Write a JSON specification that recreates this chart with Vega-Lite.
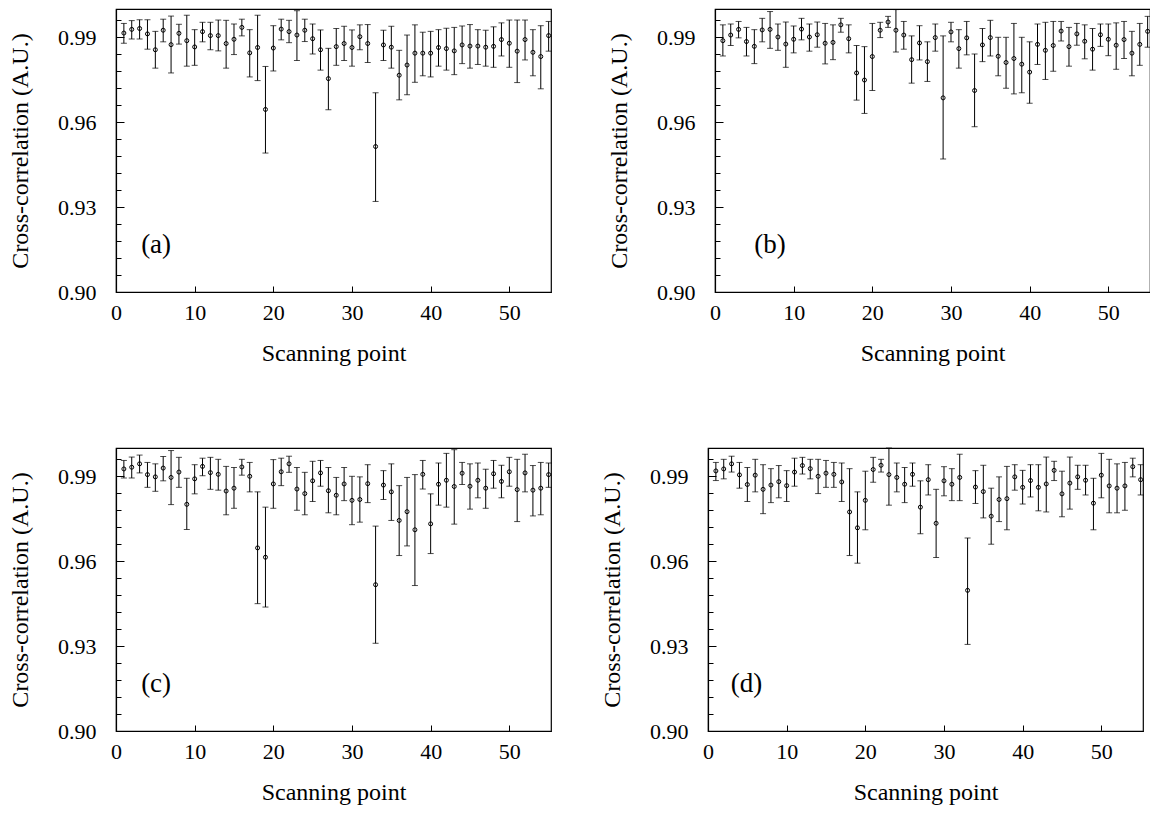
{
"$schema":"https://vega.github.io/schema/vega-lite/v6.json",
"background":"white",
"padding":{"left":7,"top":8,"right":0,"bottom":0},
"config":{"font":"Liberation Serif","view":{"stroke":"black","strokeWidth":1.2},
"text":{"font":"Liberation Serif"},
"axis":{"domainColor":"black","domainWidth":1.2,"tickColor":"black","tickWidth":1,"labelColor":"black","labelFont":"Liberation Serif","labelFontSize":22,"labelFlush":false,"titleFont":"Liberation Serif","titleFontSize":24,"titleFontWeight":"normal","titleColor":"black","grid":false}},
"datasets":{"d":[
{"p":"a","x":1,"y":0.9915,"hi":0.9949,"lo":0.9879},{"p":"a","x":2,"y":0.9928,"hi":0.9959,"lo":0.9894},{"p":"a","x":3,"y":0.9931,"hi":0.9962,"lo":0.9894},{"p":"a","x":4,"y":0.9912,"hi":0.9962,"lo":0.9858},{"p":"a","x":5,"y":0.9856,"hi":0.9921,"lo":0.9791},{"p":"a","x":6,"y":0.9925,"hi":0.9964,"lo":0.9884},{"p":"a","x":7,"y":0.9874,"hi":0.9975,"lo":0.9774},{"p":"a","x":8,"y":0.9914,"hi":0.9946,"lo":0.9876},{"p":"a","x":9,"y":0.9888,"hi":0.9978,"lo":0.9798},{"p":"a","x":10,"y":0.9866,"hi":0.9927,"lo":0.9801},{"p":"a","x":11,"y":0.992,"hi":0.9953,"lo":0.9884},{"p":"a","x":12,"y":0.9906,"hi":0.9953,"lo":0.9856},{"p":"a","x":13,"y":0.9906,"hi":0.9961,"lo":0.9852},{"p":"a","x":14,"y":0.9878,"hi":0.996,"lo":0.9791},{"p":"a","x":15,"y":0.9893,"hi":0.9947,"lo":0.9839},{"p":"a","x":16,"y":0.9935,"hi":0.9964,"lo":0.9905},{"p":"a","x":17,"y":0.9845,"hi":0.9927,"lo":0.976},{"p":"a","x":18,"y":0.9864,"hi":0.9978,"lo":0.9747},{"p":"a","x":19,"y":0.9645,"hi":0.9797,"lo":0.9491},{"p":"a","x":20,"y":0.9862,"hi":0.9941,"lo":0.9781},{"p":"a","x":21,"y":0.9929,"hi":0.9964,"lo":0.9891},{"p":"a","x":22,"y":0.992,"hi":0.996,"lo":0.9881},{"p":"a","x":23,"y":0.9908,"hi":0.9994,"lo":0.9818},{"p":"a","x":24,"y":0.9925,"hi":0.9964,"lo":0.9885},{"p":"a","x":25,"y":0.9895,"hi":0.9947,"lo":0.9841},{"p":"a","x":26,"y":0.9856,"hi":0.9926,"lo":0.9784},{"p":"a","x":27,"y":0.9754,"hi":0.9861,"lo":0.9644},{"p":"a","x":28,"y":0.9867,"hi":0.9931,"lo":0.9801},{"p":"a","x":29,"y":0.9878,"hi":0.9939,"lo":0.9818},{"p":"a","x":30,"y":0.9864,"hi":0.9926,"lo":0.9798},{"p":"a","x":31,"y":0.9902,"hi":0.9944,"lo":0.9856},{"p":"a","x":32,"y":0.9878,"hi":0.9945,"lo":0.9811},{"p":"a","x":33,"y":0.9514,"hi":0.9704,"lo":0.932},{"p":"a","x":34,"y":0.9873,"hi":0.9925,"lo":0.9818},{"p":"a","x":35,"y":0.9865,"hi":0.9939,"lo":0.9791},{"p":"a","x":36,"y":0.9766,"hi":0.9854,"lo":0.9679},{"p":"a","x":37,"y":0.9802,"hi":0.9908,"lo":0.9697},{"p":"a","x":38,"y":0.9844,"hi":0.9944,"lo":0.9741},{"p":"a","x":39,"y":0.9844,"hi":0.9918,"lo":0.9764},{"p":"a","x":40,"y":0.9844,"hi":0.9921,"lo":0.976},{"p":"a","x":41,"y":0.9864,"hi":0.9927,"lo":0.9798},{"p":"a","x":42,"y":0.986,"hi":0.9932,"lo":0.9784},{"p":"a","x":43,"y":0.9852,"hi":0.9935,"lo":0.9768},{"p":"a","x":44,"y":0.9873,"hi":0.994,"lo":0.9807},{"p":"a","x":45,"y":0.9869,"hi":0.9945,"lo":0.9791},{"p":"a","x":46,"y":0.9869,"hi":0.9927,"lo":0.9804},{"p":"a","x":47,"y":0.9865,"hi":0.9925,"lo":0.9798},{"p":"a","x":48,"y":0.9868,"hi":0.9937,"lo":0.9794},{"p":"a","x":49,"y":0.9892,"hi":0.9951,"lo":0.9834},{"p":"a","x":50,"y":0.9879,"hi":0.9961,"lo":0.9794},{"p":"a","x":51,"y":0.9851,"hi":0.9961,"lo":0.974},{"p":"a","x":52,"y":0.9892,"hi":0.9961,"lo":0.982},{"p":"a","x":53,"y":0.9847,"hi":0.9927,"lo":0.9764},{"p":"a","x":54,"y":0.9832,"hi":0.9941,"lo":0.9718},{"p":"a","x":55,"y":0.9906,"hi":0.9956,"lo":0.9851},
{"p":"b","x":1,"y":0.9888,"hi":0.9944,"lo":0.9834},{"p":"b","x":2,"y":0.9908,"hi":0.9947,"lo":0.9871},{"p":"b","x":3,"y":0.9928,"hi":0.9956,"lo":0.9898},{"p":"b","x":4,"y":0.9885,"hi":0.9935,"lo":0.9834},{"p":"b","x":5,"y":0.9868,"hi":0.9927,"lo":0.9807},{"p":"b","x":6,"y":0.9926,"hi":0.9967,"lo":0.9884},{"p":"b","x":7,"y":0.9928,"hi":0.9991,"lo":0.9861},{"p":"b","x":8,"y":0.9901,"hi":0.9947,"lo":0.9854},{"p":"b","x":9,"y":0.9876,"hi":0.9954,"lo":0.9794},{"p":"b","x":10,"y":0.9893,"hi":0.994,"lo":0.9845},{"p":"b","x":11,"y":0.9929,"hi":0.9967,"lo":0.9891},{"p":"b","x":12,"y":0.9901,"hi":0.9947,"lo":0.9851},{"p":"b","x":13,"y":0.9909,"hi":0.9954,"lo":0.9865},{"p":"b","x":14,"y":0.9879,"hi":0.9949,"lo":0.9806},{"p":"b","x":15,"y":0.9882,"hi":0.9944,"lo":0.9821},{"p":"b","x":16,"y":0.9944,"hi":0.9967,"lo":0.9918},{"p":"b","x":17,"y":0.9895,"hi":0.9944,"lo":0.9845},{"p":"b","x":18,"y":0.9774,"hi":0.9871,"lo":0.9678},{"p":"b","x":19,"y":0.9749,"hi":0.9867,"lo":0.9631},{"p":"b","x":20,"y":0.9832,"hi":0.9949,"lo":0.9712},{"p":"b","x":21,"y":0.9925,"hi":0.9953,"lo":0.9899},{"p":"b","x":22,"y":0.9954,"hi":0.9974,"lo":0.9935},{"p":"b","x":23,"y":0.9925,"hi":0.9998,"lo":0.9848},{"p":"b","x":24,"y":0.9908,"hi":0.9956,"lo":0.9858},{"p":"b","x":25,"y":0.9821,"hi":0.9905,"lo":0.9738},{"p":"b","x":26,"y":0.988,"hi":0.9941,"lo":0.982},{"p":"b","x":27,"y":0.9814,"hi":0.9884,"lo":0.9744},{"p":"b","x":28,"y":0.9899,"hi":0.9947,"lo":0.9851},{"p":"b","x":29,"y":0.9686,"hi":0.9905,"lo":0.947},{"p":"b","x":30,"y":0.9919,"hi":0.9953,"lo":0.9884},{"p":"b","x":31,"y":0.986,"hi":0.9927,"lo":0.9791},{"p":"b","x":32,"y":0.9898,"hi":0.9956,"lo":0.9838},{"p":"b","x":33,"y":0.9712,"hi":0.9841,"lo":0.9584},{"p":"b","x":34,"y":0.9873,"hi":0.9931,"lo":0.9814},{"p":"b","x":35,"y":0.9899,"hi":0.996,"lo":0.9834},{"p":"b","x":36,"y":0.9833,"hi":0.99,"lo":0.9764},{"p":"b","x":37,"y":0.9811,"hi":0.99,"lo":0.972},{"p":"b","x":38,"y":0.9825,"hi":0.9949,"lo":0.97},{"p":"b","x":39,"y":0.9805,"hi":0.99,"lo":0.9704},{"p":"b","x":40,"y":0.9777,"hi":0.9884,"lo":0.9667},{"p":"b","x":41,"y":0.9875,"hi":0.9947,"lo":0.9804},{"p":"b","x":42,"y":0.9854,"hi":0.9953,"lo":0.9751},{"p":"b","x":43,"y":0.9871,"hi":0.9956,"lo":0.978},{"p":"b","x":44,"y":0.9922,"hi":0.9956,"lo":0.9887},{"p":"b","x":45,"y":0.9867,"hi":0.9935,"lo":0.9798},{"p":"b","x":46,"y":0.9912,"hi":0.9949,"lo":0.9872},{"p":"b","x":47,"y":0.9886,"hi":0.9944,"lo":0.9824},{"p":"b","x":48,"y":0.9858,"hi":0.9931,"lo":0.9784},{"p":"b","x":49,"y":0.9909,"hi":0.9947,"lo":0.9868},{"p":"b","x":50,"y":0.9893,"hi":0.9947,"lo":0.9835},{"p":"b","x":51,"y":0.9872,"hi":0.9951,"lo":0.9787},{"p":"b","x":52,"y":0.9892,"hi":0.9956,"lo":0.9825},{"p":"b","x":53,"y":0.9844,"hi":0.9921,"lo":0.9764},{"p":"b","x":54,"y":0.9875,"hi":0.9949,"lo":0.9801},{"p":"b","x":55,"y":0.9921,"hi":0.9974,"lo":0.9865},
{"p":"c","x":1,"y":0.9926,"hi":0.9956,"lo":0.9894},{"p":"c","x":2,"y":0.9932,"hi":0.9968,"lo":0.9894},{"p":"c","x":3,"y":0.9944,"hi":0.9975,"lo":0.9912},{"p":"c","x":4,"y":0.9906,"hi":0.9949,"lo":0.9861},{"p":"c","x":5,"y":0.9898,"hi":0.9944,"lo":0.9847},{"p":"c","x":6,"y":0.9929,"hi":0.997,"lo":0.9884},{"p":"c","x":7,"y":0.9896,"hi":0.9991,"lo":0.98},{"p":"c","x":8,"y":0.9915,"hi":0.9967,"lo":0.9861},{"p":"c","x":9,"y":0.9801,"hi":0.9893,"lo":0.9712},{"p":"c","x":10,"y":0.9891,"hi":0.9941,"lo":0.9838},{"p":"c","x":11,"y":0.9935,"hi":0.9964,"lo":0.9902},{"p":"c","x":12,"y":0.9913,"hi":0.9967,"lo":0.9854},{"p":"c","x":13,"y":0.9907,"hi":0.996,"lo":0.9851},{"p":"c","x":14,"y":0.9848,"hi":0.9935,"lo":0.9764},{"p":"c","x":15,"y":0.9858,"hi":0.9931,"lo":0.9787},{"p":"c","x":16,"y":0.9933,"hi":0.996,"lo":0.9904},{"p":"c","x":17,"y":0.99,"hi":0.9949,"lo":0.9845},{"p":"c","x":18,"y":0.9647,"hi":0.9845,"lo":0.945},{"p":"c","x":19,"y":0.9614,"hi":0.9791,"lo":0.9438},{"p":"c","x":20,"y":0.9873,"hi":0.9959,"lo":0.9787},{"p":"c","x":21,"y":0.9916,"hi":0.9964,"lo":0.9867},{"p":"c","x":22,"y":0.9944,"hi":0.9971,"lo":0.9914},{"p":"c","x":23,"y":0.9855,"hi":0.9931,"lo":0.978},{"p":"c","x":24,"y":0.9839,"hi":0.9914,"lo":0.9764},{"p":"c","x":25,"y":0.9884,"hi":0.9953,"lo":0.9811},{"p":"c","x":26,"y":0.9912,"hi":0.9956,"lo":0.9865},{"p":"c","x":27,"y":0.9849,"hi":0.9931,"lo":0.9771},{"p":"c","x":28,"y":0.9833,"hi":0.9896,"lo":0.9764},{"p":"c","x":29,"y":0.9873,"hi":0.9931,"lo":0.9814},{"p":"c","x":30,"y":0.9815,"hi":0.99,"lo":0.9729},{"p":"c","x":31,"y":0.9818,"hi":0.9898,"lo":0.9738},{"p":"c","x":32,"y":0.9874,"hi":0.9941,"lo":0.9807},{"p":"c","x":33,"y":0.9517,"hi":0.9724,"lo":0.931},{"p":"c","x":34,"y":0.9869,"hi":0.992,"lo":0.9818},{"p":"c","x":35,"y":0.9845,"hi":0.9944,"lo":0.9744},{"p":"c","x":36,"y":0.9744,"hi":0.9867,"lo":0.962},{"p":"c","x":37,"y":0.9775,"hi":0.9896,"lo":0.9654},{"p":"c","x":38,"y":0.9711,"hi":0.9906,"lo":0.9514},{"p":"c","x":39,"y":0.9907,"hi":0.9956,"lo":0.9855},{"p":"c","x":40,"y":0.9732,"hi":0.9838,"lo":0.9627},{"p":"c","x":41,"y":0.9872,"hi":0.9947,"lo":0.9798},{"p":"c","x":42,"y":0.9886,"hi":0.9981,"lo":0.9791},{"p":"c","x":43,"y":0.9864,"hi":0.9994,"lo":0.9731},{"p":"c","x":44,"y":0.9911,"hi":0.9949,"lo":0.9871},{"p":"c","x":45,"y":0.9865,"hi":0.9944,"lo":0.9784},{"p":"c","x":46,"y":0.9886,"hi":0.9947,"lo":0.9824},{"p":"c","x":47,"y":0.9858,"hi":0.9925,"lo":0.9787},{"p":"c","x":48,"y":0.9909,"hi":0.9956,"lo":0.9858},{"p":"c","x":49,"y":0.9882,"hi":0.9939,"lo":0.9824},{"p":"c","x":50,"y":0.9916,"hi":0.9967,"lo":0.9865},{"p":"c","x":51,"y":0.9853,"hi":0.996,"lo":0.974},{"p":"c","x":52,"y":0.9912,"hi":0.9978,"lo":0.9845},{"p":"c","x":53,"y":0.9851,"hi":0.9938,"lo":0.976},{"p":"c","x":54,"y":0.9858,"hi":0.9949,"lo":0.9764},{"p":"c","x":55,"y":0.9906,"hi":0.9947,"lo":0.9861},
{"p":"d","x":1,"y":0.9919,"hi":0.9949,"lo":0.9885},{"p":"d","x":2,"y":0.9926,"hi":0.996,"lo":0.9891},{"p":"d","x":3,"y":0.9944,"hi":0.9971,"lo":0.9915},{"p":"d","x":4,"y":0.9905,"hi":0.9949,"lo":0.9858},{"p":"d","x":5,"y":0.9871,"hi":0.9931,"lo":0.9811},{"p":"d","x":6,"y":0.9904,"hi":0.996,"lo":0.9845},{"p":"d","x":7,"y":0.9854,"hi":0.9941,"lo":0.9768},{"p":"d","x":8,"y":0.9869,"hi":0.9927,"lo":0.9807},{"p":"d","x":9,"y":0.9881,"hi":0.9938,"lo":0.9824},{"p":"d","x":10,"y":0.9867,"hi":0.992,"lo":0.9811},{"p":"d","x":11,"y":0.9915,"hi":0.9964,"lo":0.9865},{"p":"d","x":12,"y":0.9938,"hi":0.9967,"lo":0.9908},{"p":"d","x":13,"y":0.9927,"hi":0.996,"lo":0.9891},{"p":"d","x":14,"y":0.99,"hi":0.996,"lo":0.9839},{"p":"d","x":15,"y":0.9911,"hi":0.9956,"lo":0.9861},{"p":"d","x":16,"y":0.9907,"hi":0.9949,"lo":0.9861},{"p":"d","x":17,"y":0.988,"hi":0.9947,"lo":0.9811},{"p":"d","x":18,"y":0.9774,"hi":0.9927,"lo":0.962},{"p":"d","x":19,"y":0.9718,"hi":0.9845,"lo":0.9593},{"p":"d","x":20,"y":0.9815,"hi":0.9918,"lo":0.9711},{"p":"d","x":21,"y":0.9924,"hi":0.9967,"lo":0.9879},{"p":"d","x":22,"y":0.9939,"hi":0.996,"lo":0.9915},{"p":"d","x":23,"y":0.9906,"hi":1.0,"lo":0.9798},{"p":"d","x":24,"y":0.9896,"hi":0.9947,"lo":0.9845},{"p":"d","x":25,"y":0.9872,"hi":0.9931,"lo":0.9807},{"p":"d","x":26,"y":0.9907,"hi":0.9947,"lo":0.9865},{"p":"d","x":27,"y":0.9791,"hi":0.9884,"lo":0.9697},{"p":"d","x":28,"y":0.9888,"hi":0.9941,"lo":0.9834},{"p":"d","x":29,"y":0.9734,"hi":0.9854,"lo":0.9613},{"p":"d","x":30,"y":0.9884,"hi":0.9934,"lo":0.9831},{"p":"d","x":31,"y":0.9872,"hi":0.9927,"lo":0.9814},{"p":"d","x":32,"y":0.9896,"hi":0.9978,"lo":0.9814},{"p":"d","x":33,"y":0.9497,"hi":0.9682,"lo":0.9306},{"p":"d","x":34,"y":0.9862,"hi":0.992,"lo":0.9804},{"p":"d","x":35,"y":0.9846,"hi":0.9939,"lo":0.9753},{"p":"d","x":36,"y":0.9759,"hi":0.9858,"lo":0.966},{"p":"d","x":37,"y":0.9818,"hi":0.9898,"lo":0.974},{"p":"d","x":38,"y":0.9821,"hi":0.9935,"lo":0.9711},{"p":"d","x":39,"y":0.9898,"hi":0.9941,"lo":0.9851},{"p":"d","x":40,"y":0.9861,"hi":0.9921,"lo":0.9802},{"p":"d","x":41,"y":0.9885,"hi":0.9941,"lo":0.9827},{"p":"d","x":42,"y":0.9861,"hi":0.9941,"lo":0.9778},{"p":"d","x":43,"y":0.9873,"hi":0.9968,"lo":0.9774},{"p":"d","x":44,"y":0.9921,"hi":0.9953,"lo":0.9885},{"p":"d","x":45,"y":0.9838,"hi":0.9918,"lo":0.9757},{"p":"d","x":46,"y":0.9876,"hi":0.9968,"lo":0.9784},{"p":"d","x":47,"y":0.9898,"hi":0.9939,"lo":0.9854},{"p":"d","x":48,"y":0.9886,"hi":0.9939,"lo":0.9834},{"p":"d","x":49,"y":0.9805,"hi":0.9893,"lo":0.9711},{"p":"d","x":50,"y":0.9904,"hi":0.9981,"lo":0.9824},{"p":"d","x":51,"y":0.9866,"hi":0.996,"lo":0.9771},{"p":"d","x":52,"y":0.9858,"hi":0.9944,"lo":0.9771},{"p":"d","x":53,"y":0.9866,"hi":0.9949,"lo":0.978},{"p":"d","x":54,"y":0.9934,"hi":0.9964,"lo":0.9898},{"p":"d","x":55,"y":0.9888,"hi":0.9941,"lo":0.9834}
]},
"spacing":80,
"vconcat":[
{"spacing":52,"hconcat":[
{"width":435,"height":283,"data":{"name":"d"},"transform":[{"filter":"datum.p==='a'"}],"layer":[
{"mark":{"type":"rule","color":"black","strokeWidth":1},"encoding":{"x":{"field":"x","type":"quantitative","scale":{"domain":[0,55.3],"nice":false},"axis":{"title":"Scanning point","values":[0,10,20,30,40,50],"tickSize":-6,"labelPadding":16,"titlePadding":18}},"y":{"field":"lo","type":"quantitative","scale":{"domain":[0.9,1.0],"nice":false},"axis":{"title":"Cross-correlation (A.U.)","values":[0.9,0.906,0.912,0.918,0.924,0.93,0.936,0.942,0.948,0.954,0.96,0.966,0.972,0.978,0.984,0.99,0.996],"tickCount":40,"labelOverlap":false,"labelExpr":"indexof(['0.900','0.930','0.960','0.990'], format(datum.value,'.3f')) >= 0 ? format(datum.value,'.2f') : ''","tickSize":{"condition":{"test":"indexof(['0.900','0.930','0.960','0.990'], format(datum.value,'.3f')) >= 0","value":-8},"value":-5},"labelPadding":28,"titlePadding":25}},"y2":{"field":"hi"}}},
{"mark":{"type":"tick","orient":"horizontal","color":"black","size":6,"thickness":1},"encoding":{"x":{"field":"x","type":"quantitative"},"y":{"field":"lo","type":"quantitative"}}},
{"mark":{"type":"tick","orient":"horizontal","color":"black","size":6,"thickness":1},"encoding":{"x":{"field":"x","type":"quantitative"},"y":{"field":"hi","type":"quantitative"}}},
{"mark":{"type":"point","shape":"circle","filled":false,"size":16,"stroke":"black","strokeWidth":1,"opacity":1},"encoding":{"x":{"field":"x","type":"quantitative"},"y":{"field":"y","type":"quantitative"}}},
{"data":{"values":[{"t":"(a)"}]},"mark":{"type":"text","fontSize":27,"color":"black","baseline":"middle"},"encoding":{"x":{"datum":5.1},"y":{"datum":0.9165},"text":{"field":"t"}}}
]},
{"width":435,"height":283,"data":{"name":"d"},"transform":[{"filter":"datum.p==='b'"}],"layer":[
{"mark":{"type":"rule","color":"black","strokeWidth":1},"encoding":{"x":{"field":"x","type":"quantitative","scale":{"domain":[0,55.3],"nice":false},"axis":{"title":"Scanning point","values":[0,10,20,30,40,50],"tickSize":-6,"labelPadding":16,"titlePadding":18}},"y":{"field":"lo","type":"quantitative","scale":{"domain":[0.9,1.0],"nice":false},"axis":{"title":"Cross-correlation (A.U.)","values":[0.9,0.906,0.912,0.918,0.924,0.93,0.936,0.942,0.948,0.954,0.96,0.966,0.972,0.978,0.984,0.99,0.996],"tickCount":40,"labelOverlap":false,"labelExpr":"indexof(['0.900','0.930','0.960','0.990'], format(datum.value,'.3f')) >= 0 ? format(datum.value,'.2f') : ''","tickSize":{"condition":{"test":"indexof(['0.900','0.930','0.960','0.990'], format(datum.value,'.3f')) >= 0","value":-8},"value":-5},"labelPadding":28,"titlePadding":25}},"y2":{"field":"hi"}}},
{"mark":{"type":"tick","orient":"horizontal","color":"black","size":6,"thickness":1},"encoding":{"x":{"field":"x","type":"quantitative"},"y":{"field":"lo","type":"quantitative"}}},
{"mark":{"type":"tick","orient":"horizontal","color":"black","size":6,"thickness":1},"encoding":{"x":{"field":"x","type":"quantitative"},"y":{"field":"hi","type":"quantitative"}}},
{"mark":{"type":"point","shape":"circle","filled":false,"size":16,"stroke":"black","strokeWidth":1,"opacity":1},"encoding":{"x":{"field":"x","type":"quantitative"},"y":{"field":"y","type":"quantitative"}}},
{"data":{"values":[{"t":"(b)"}]},"mark":{"type":"text","fontSize":27,"color":"black","baseline":"middle"},"encoding":{"x":{"datum":7.0},"y":{"datum":0.9165},"text":{"field":"t"}}}
]}
]},
{"spacing":45,"hconcat":[
{"width":435,"height":283,"data":{"name":"d"},"transform":[{"filter":"datum.p==='c'"}],"layer":[
{"mark":{"type":"rule","color":"black","strokeWidth":1},"encoding":{"x":{"field":"x","type":"quantitative","scale":{"domain":[0,55.3],"nice":false},"axis":{"title":"Scanning point","values":[0,10,20,30,40,50],"tickSize":-6,"labelPadding":16,"titlePadding":18}},"y":{"field":"lo","type":"quantitative","scale":{"domain":[0.9,1.0],"nice":false},"axis":{"title":"Cross-correlation (A.U.)","values":[0.9,0.906,0.912,0.918,0.924,0.93,0.936,0.942,0.948,0.954,0.96,0.966,0.972,0.978,0.984,0.99,0.996],"tickCount":40,"labelOverlap":false,"labelExpr":"indexof(['0.900','0.930','0.960','0.990'], format(datum.value,'.3f')) >= 0 ? format(datum.value,'.2f') : ''","tickSize":{"condition":{"test":"indexof(['0.900','0.930','0.960','0.990'], format(datum.value,'.3f')) >= 0","value":-8},"value":-5},"labelPadding":28,"titlePadding":25}},"y2":{"field":"hi"}}},
{"mark":{"type":"tick","orient":"horizontal","color":"black","size":6,"thickness":1},"encoding":{"x":{"field":"x","type":"quantitative"},"y":{"field":"lo","type":"quantitative"}}},
{"mark":{"type":"tick","orient":"horizontal","color":"black","size":6,"thickness":1},"encoding":{"x":{"field":"x","type":"quantitative"},"y":{"field":"hi","type":"quantitative"}}},
{"mark":{"type":"point","shape":"circle","filled":false,"size":16,"stroke":"black","strokeWidth":1,"opacity":1},"encoding":{"x":{"field":"x","type":"quantitative"},"y":{"field":"y","type":"quantitative"}}},
{"data":{"values":[{"t":"(c)"}]},"mark":{"type":"text","fontSize":27,"color":"black","baseline":"middle"},"encoding":{"x":{"datum":5.1},"y":{"datum":0.9165},"text":{"field":"t"}}}
]},
{"width":435,"height":283,"data":{"name":"d"},"transform":[{"filter":"datum.p==='d'"}],"layer":[
{"mark":{"type":"rule","color":"black","strokeWidth":1},"encoding":{"x":{"field":"x","type":"quantitative","scale":{"domain":[0,55.3],"nice":false},"axis":{"title":"Scanning point","values":[0,10,20,30,40,50],"tickSize":-6,"labelPadding":16,"titlePadding":18}},"y":{"field":"lo","type":"quantitative","scale":{"domain":[0.9,1.0],"nice":false},"axis":{"title":"Cross-correlation (A.U.)","values":[0.9,0.906,0.912,0.918,0.924,0.93,0.936,0.942,0.948,0.954,0.96,0.966,0.972,0.978,0.984,0.99,0.996],"tickCount":40,"labelOverlap":false,"labelExpr":"indexof(['0.900','0.930','0.960','0.990'], format(datum.value,'.3f')) >= 0 ? format(datum.value,'.2f') : ''","tickSize":{"condition":{"test":"indexof(['0.900','0.930','0.960','0.990'], format(datum.value,'.3f')) >= 0","value":-8},"value":-5},"labelPadding":28,"titlePadding":25}},"y2":{"field":"hi"}}},
{"mark":{"type":"tick","orient":"horizontal","color":"black","size":6,"thickness":1},"encoding":{"x":{"field":"x","type":"quantitative"},"y":{"field":"lo","type":"quantitative"}}},
{"mark":{"type":"tick","orient":"horizontal","color":"black","size":6,"thickness":1},"encoding":{"x":{"field":"x","type":"quantitative"},"y":{"field":"hi","type":"quantitative"}}},
{"mark":{"type":"point","shape":"circle","filled":false,"size":16,"stroke":"black","strokeWidth":1,"opacity":1},"encoding":{"x":{"field":"x","type":"quantitative"},"y":{"field":"y","type":"quantitative"}}},
{"data":{"values":[{"t":"(d)"}]},"mark":{"type":"text","fontSize":27,"color":"black","baseline":"middle"},"encoding":{"x":{"datum":4.9},"y":{"datum":0.9165},"text":{"field":"t"}}}
]}
]}
]
}
